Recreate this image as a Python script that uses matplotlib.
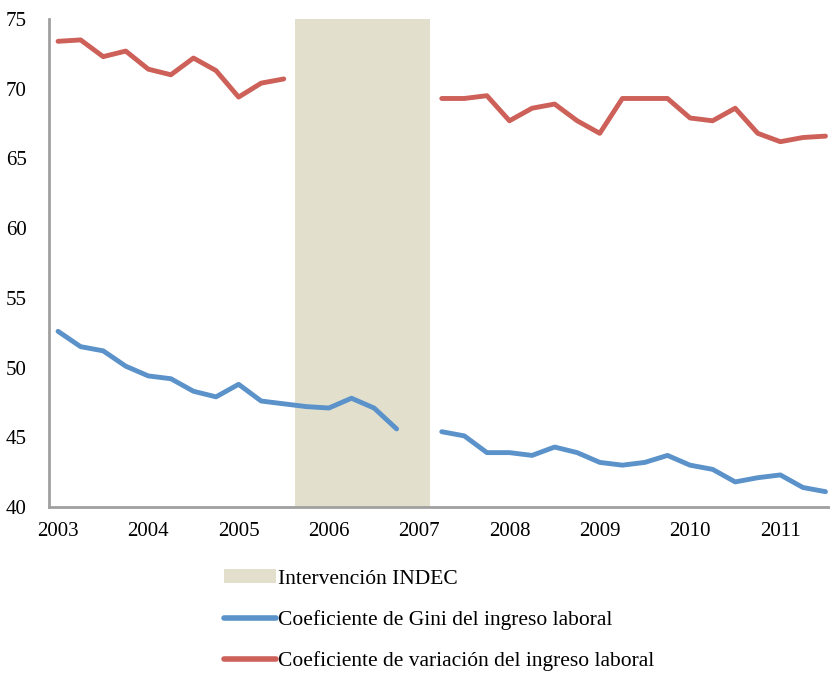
import numpy as np
import matplotlib
matplotlib.use("Agg")
import matplotlib.pyplot as plt
from matplotlib.patches import Patch
from matplotlib.lines import Line2D

nan = np.nan

# quarterly series, 2003Q1 .. 2011Q3
quarters = [f"{y}Q{q}" for y in range(2003, 2012) for q in range(1, 5)][:35]
years = [str(y) for y in range(2003, 2012)]

gini = [52.6, 51.5, 51.2, 50.1, 49.4, 49.2, 48.3, 47.9, 48.8, 47.6,
        47.4, 47.2, 47.1, 47.8, 47.1, 45.6, nan, 45.4, 45.1, 43.9,
        43.9, 43.7, 44.3, 43.9, 43.2, 43.0, 43.2, 43.7, 43.0, 42.7,
        41.8, 42.1, 42.3, 41.4, 41.1]
cv = [73.4, 73.5, 72.3, 72.7, 71.4, 71.0, 72.2, 71.3, 69.4, 70.4,
      70.7, nan, nan, nan, nan, nan, nan, 69.3, 69.3, 69.5,
      67.7, 68.6, 68.9, 67.7, 66.8, 69.3, 69.3, 69.3, 67.9, 67.7,
      68.6, 66.8, 66.2, 66.5, 66.6]

indec_start, indec_end = "2005Q4", "2007Q1"

blue = "#5A92C9"
red = "#CD6058"
shade = "#E2DFCC"

plt.rcParams['font.family'] = ['Liberation Serif', 'DejaVu Serif']

fig = plt.figure(figsize=(8.3, 6.74), dpi=100)
ax = fig.add_axes([49 / 830, (674 - 507) / 674, 781 / 830, 488 / 674])

x = np.arange(len(quarters))
i0, i1 = quarters.index(indec_start), quarters.index(indec_end)
ax.axvspan(i0 - 0.5, i1 + 0.5, color=shade, lw=0, zorder=0)
ax.plot(x, gini, color=blue, lw=3.5, solid_capstyle='round', zorder=2)
ax.plot(x, cv, color=red, lw=3.5, solid_capstyle='round', zorder=2)

ax.set_xlim(-0.4, 34.2)
ax.set_ylim(40, 75)
ax.set_yticks(range(40, 80, 5))
ax.set_xticks(x[::4])
ax.set_xticklabels(years)
ax.tick_params(length=0, labelsize=15, colors='black')
ax.tick_params(axis='x', pad=11)
ax.tick_params(axis='y', pad=16)
for s in ['top', 'right']:
    ax.spines[s].set_visible(False)
for s in ['left', 'bottom']:
    ax.spines[s].set_color('#A0A0A0')
    ax.spines[s].set_linewidth(2)

handles = [Patch(facecolor=shade, edgecolor='none'),
           Line2D([], [], color=blue, lw=4, solid_capstyle='round'),
           Line2D([], [], color=red, lw=4, solid_capstyle='round')]
labels = ["Intervención INDEC",
          "Coeficiente de Gini del ingreso laboral",
          "Coeficiente de variación del ingreso laboral"]
fig.legend(handles, labels, loc='upper left', bbox_to_anchor=(0.247, 0.184),
           frameon=False, fontsize=15.5, handlelength=2.4, handletextpad=0.1,
           labelspacing=0.98, handleheight=0.6)

fig.savefig("out.png", dpi=100)
